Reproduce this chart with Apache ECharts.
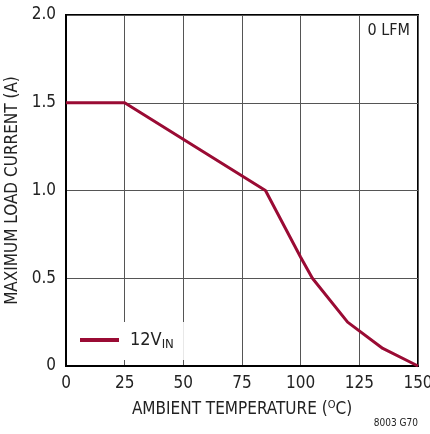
<!DOCTYPE html>
<html>
<head>
<meta charset="utf-8">
<script src="https://cdn.jsdelivr.net/npm/echarts@6/dist/echarts.min.js"></script>
<style>
  html, body { margin: 0; padding: 0; background: #fff; }
  #chart { width: 430px; height: 434px; }
</style>
</head>
<body>
<div id="chart"></div>
<script>
// temperature (C) vs max load current (A)
const tempC = [0, 25, 85, 100, 105, 120, 135, 150];
const loadA = [1.5, 1.5, 1.0, 0.62, 0.5, 0.25, 0.1, 0];
const xTickLabels = ['0', '25', '50', '75', '100', '125', '150'];
const yTickLabels = ['0', '0.5', '1.0', '1.5', '2.0'];
const seriesName = '12VIN';

const font = '"Liberation Sans Narrow", "DejaVu Sans Condensed", sans-serif';
const txt = '#222';

let chart = echarts.init(document.getElementById('chart'));
let option = {
    animation: false,
    grid: {
        left: 66, right: 12, top: 15, bottom: 68,
        outerBoundsMode: 'none',
        containLabel: false,
        show: true, borderColor: '#000', borderWidth: 2
    },
    legend: {
        data: [seriesName],
        left: 70, top: 322,
        padding: [9, 10, 9, 10],
        backgroundColor: '#fff',
        icon: 'rect',
        itemWidth: 39, itemHeight: 4,
        formatter: function() { return '12V{sub|IN}'; },
        textStyle: {
            fontFamily: font, fontSize: 18, color: txt,
            padding: [0, 0, 0, 6],
            rich: {
                sub: { fontFamily: font, fontSize: 13, color: txt, padding: [9, 0, 0, 0] }
            }
        }
    },
    xAxis: {
        type: 'value',
        min: 0, max: 150, interval: 25,
        name: 'AMBIENT TEMPERATURE ({sup|O}C)',
        nameLocation: 'middle',
        nameGap: 34,
        nameTextStyle: {
            fontFamily: font, fontSize: 17, color: txt,
            rich: {
                sup: { fontFamily: font, fontSize: 11, color: txt, padding: [0, 0, 9, 0] }
            }
        },
        axisLine: { show: true, lineStyle: { color: '#000', width: 2 } },
        axisTick: { show: false },
        axisLabel: {
            margin: 9, fontFamily: font, fontSize: 17, color: txt,
            formatter: function(v) { return xTickLabels[Math.round(v / 25)]; }
        },
        splitLine: { show: true, lineStyle: { color: '#555', width: 1 } }
    },
    yAxis: {
        type: 'value',
        min: 0, max: 2, interval: 0.5,
        name: 'MAXIMUM LOAD CURRENT (A)',
        nameLocation: 'middle',
        nameGap: 36,
        nameTextStyle: { fontFamily: font, fontSize: 17, color: txt },
        axisLine: { show: true, lineStyle: { color: '#000', width: 2 } },
        axisTick: { show: false },
        axisLabel: {
            margin: 10, fontFamily: font, fontSize: 17, color: txt,
            formatter: function(v) { return yTickLabels[Math.round(v / 0.5)]; }
        },
        splitLine: { show: true, lineStyle: { color: '#555', width: 1 } }
    },
    graphic: [
        {
            type: 'text', right: 20, top: 23,
            style: { text: '0 LFM', fontFamily: font, fontSize: 16, fill: txt }
        },
        {
            type: 'text', right: 12, top: 418,
            style: { text: '8003 G70', fontFamily: font, fontSize: 10, fill: txt }
        }
    ],
    series: [
        {
            name: seriesName,
            type: 'line',
            data: tempC.map((t, i) => [t, loadA[i]]),
            symbol: 'none',
            lineStyle: { color: '#9a0b34', width: 3 },
            itemStyle: { color: '#9a0b34' }
        }
    ]
};
chart.setOption(option, true);
</script>
</body>
</html>
